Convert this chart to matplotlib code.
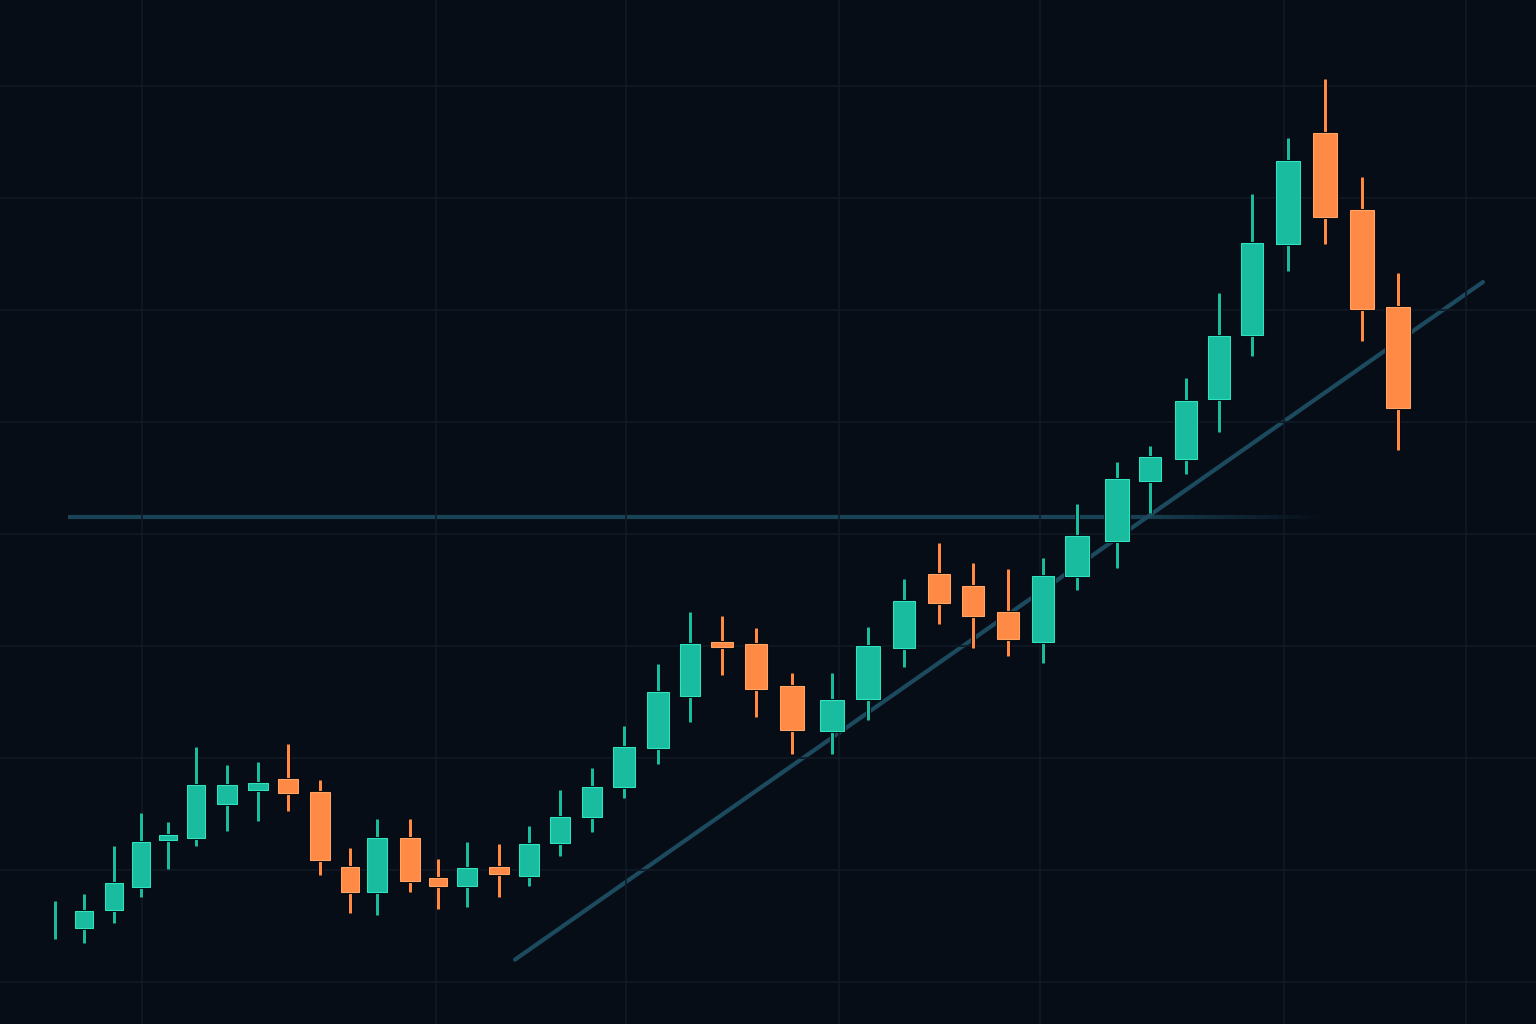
import numpy as np
import matplotlib
matplotlib.use("Agg")
import matplotlib.pyplot as plt
from matplotlib.patches import Rectangle
from matplotlib.collections import LineCollection

# ---------------- data ----------------
# session time of each candle (uneven spacing, like the original)
t = [5.5, 8.4, 11.4, 14.1, 16.8, 19.6, 22.7, 25.8, 28.8, 32.0,
     35.0, 37.7, 41.0, 43.8, 46.7, 49.9, 52.9, 56.0, 59.2, 62.4,
     65.8, 69.0, 72.2, 75.6, 79.2, 83.2, 86.8, 90.4, 93.9, 97.3,
     100.8, 104.3, 107.7, 111.7, 115.0, 118.6, 121.9, 125.2, 128.8, 132.5,
     136.2, 139.8]

opens = [105.5, 104.8, 106.4, 108.5, 112.7, 112.9, 115.9, 117.1, 118.1, 117.0,
         110.3, 108.0, 112.9, 109.3, 108.6, 110.3, 109.5, 112.4, 114.7, 117.4,
         120.9, 125.5, 130.4, 130.2, 126.4, 122.4, 125.3, 129.8, 136.4, 135.4,
         133.0, 130.4, 136.25, 139.4, 144.7, 146.7, 152.05, 157.8, 165.9, 175.8,
         168.9, 160.3]
highs = [107.2, 107.9, 112.1, 115.1, 114.3, 121.0, 119.4, 119.6, 121.25, 118.0,
         112.0, 114.55, 114.55, 111.0, 112.5, 112.3, 113.9, 117.1, 119.1, 122.9,
         128.4, 133.0, 132.7, 131.6, 127.6, 127.6, 131.7, 136.0, 139.2, 137.4,
         136.9, 137.9, 142.7, 146.4, 147.9, 153.9, 161.5, 170.4, 175.4, 180.6,
         171.9, 163.3]
lows = [103.8, 103.5, 105.3, 107.6, 110.1, 112.1, 113.5, 114.4, 115.3, 109.55,
        106.2, 106.0, 108.0, 106.5, 106.7, 107.6, 108.6, 111.25, 113.4, 116.4,
        119.5, 123.2, 127.4, 123.7, 120.4, 120.4, 123.4, 128.1, 132.0, 129.8,
        129.1, 128.5, 135.0, 137.0, 141.9, 145.4, 149.1, 155.9, 163.5, 165.9,
        157.2, 147.5]
closes = [105.5, 106.3, 108.8, 112.5, 113.1, 117.6, 117.6, 117.8, 116.9, 110.9,
          108.0, 112.9, 109.0, 108.6, 110.2, 109.6, 112.3, 114.7, 117.4, 121.0,
          125.9, 130.2, 129.9, 126.2, 122.5, 125.2, 130.0, 134.0, 133.8, 132.7,
          130.6, 136.25, 139.8, 144.9, 146.9, 151.9, 157.7, 166.0, 173.3, 168.3,
          160.1, 151.25]

# resistance level and rising trend line
level_price = 141.5
level_t = [6.8, 132.0]
trend_t = [51.5, 148.3]
trend_p = [102.0, 162.5]

grid_t = [14.2, 43.6, 62.6, 83.9, 104.0, 128.4, 146.6]
grid_p = [100, 110, 120, 130, 140, 150, 160, 170, 180]

# ---------------- style ----------------
BG = '#070d17'
GRID = '#111a26'
UP, UP_EDGE = '#1abc9f', '#2ee3c2'
DOWN, DOWN_EDGE = '#ff8a45', '#ffa566'
LINE = '#1c4a5e'

fig = plt.figure(figsize=(15.36, 10.24), dpi=100, facecolor=BG)
ax = fig.add_axes([0, 0, 1, 1])
ax.set_facecolor(BG)
ax.set_xlim(0, 153.6)
ax.set_ylim(96.25, 187.68)

ax.set_xticks(grid_t)
ax.set_yticks(grid_p)
ax.grid(True, color=GRID, lw=1.2, zorder=0)
ax.tick_params(length=0, labelbottom=False, labelleft=False)
for s in ax.spines.values():
    s.set_visible(False)

# horizontal level, fading out towards the right end
xs = np.linspace(level_t[0], level_t[1], 120)
fade = np.clip((level_t[1] - xs[:-1]) / 20.0, 0, 1)
segs = [[(xs[i], level_price), (xs[i + 1], level_price)] for i in range(len(xs) - 1)]
cols = [matplotlib.colors.to_rgba(LINE, 0.9 * a) for a in fade]
ax.add_collection(LineCollection(segs, colors=cols, linewidths=3.0,
                                 capstyle='butt', zorder=1))

# trend line
ax.plot(trend_t, trend_p, color=LINE, lw=3.0, solid_capstyle='round', zorder=1)

# candles
widths = 0.64 * np.gradient(np.array(t))
for x, o, h, l, c, w in zip(t, opens, highs, lows, closes, widths):
    up = c >= o
    face = UP if up else DOWN
    edge = UP_EDGE if up else DOWN_EDGE
    ax.plot([x, x], [l, h], color='#03070d', lw=3.6, zorder=2, solid_capstyle='butt')
    ax.plot([x, x], [l, h], color=face, lw=2.2, zorder=3, solid_capstyle='butt')
    if abs(c - o) > 0:
        lo, hi = min(o, c), max(o, c)
        ax.add_patch(Rectangle((x - w / 2, lo), w, hi - lo, facecolor=face,
                               edgecolor='#03070d', lw=2.2, zorder=4))
        ax.add_patch(Rectangle((x - w / 2, lo), w, hi - lo, facecolor=face,
                               edgecolor=edge, lw=0.8, zorder=5))

fig.savefig('out.png', dpi=100, facecolor=BG)
